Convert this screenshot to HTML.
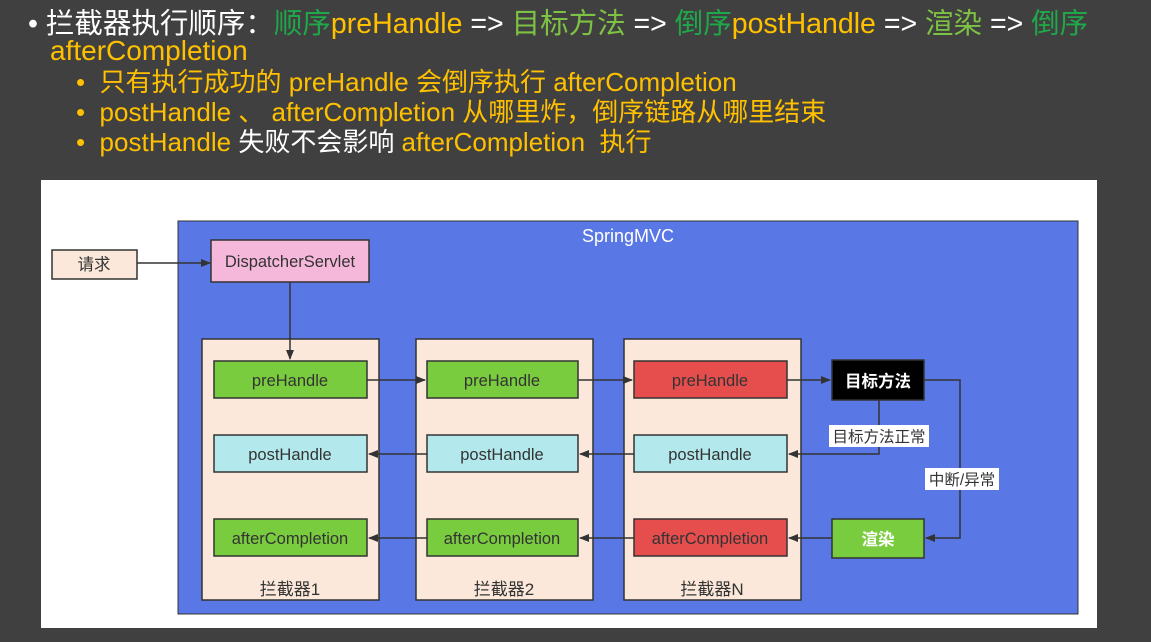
<!DOCTYPE html>
<html><head><meta charset="utf-8"><style>
body{margin:0;width:1151px;height:642px;background:#404040;overflow:hidden;font-family:"Liberation Sans","Noto Sans CJK SC",sans-serif;position:relative}
.t{position:absolute;white-space:nowrap;line-height:1}
.w{color:#fff}.g{color:#1fa84a}.lg{color:#7dc243}.y{color:#ffc000}
</style></head><body>
<div class="t w" style="left:28px;top:10px;font-size:28.5px">•&nbsp;拦截器执行顺序：<span class="g">顺序</span><span class="y">preHandle</span> => <span class="lg">目标方法</span> => <span class="g">倒序</span><span class="y">postHandle</span> => <span class="lg">渲染</span> => <span class="g">倒序</span></div>
<div class="t y" style="left:50px;top:37px;font-size:28px">afterCompletion</div>
<div class="t y" style="left:76px;top:69px;font-size:26px">•&nbsp; 只有执行成功的 preHandle 会倒序执行 afterCompletion</div>
<div class="t y" style="left:76px;top:99px;font-size:26px">•&nbsp; postHandle 、 afterCompletion 从哪里炸，倒序链路从哪里结束</div>
<div class="t y" style="left:76px;top:129px;font-size:26px">•&nbsp; postHandle <span class="w">失败不会影响</span> afterCompletion&nbsp; 执行</div>
<svg style="position:absolute;left:0;top:0" width="1151" height="642" font-family="Liberation Sans,Noto Sans CJK SC,sans-serif">
<defs><marker id="a" markerWidth="10" markerHeight="8" refX="9" refY="4" orient="auto" markerUnits="userSpaceOnUse"><path d="M0,0L10,4L0,8z" fill="#333"/></marker></defs>
<rect x="41" y="180" width="1056" height="448" fill="#fff"/>
<rect x="178" y="221" width="900" height="393" fill="#5a77e6" stroke="#333"/>
<text x="628" y="242" font-size="18" fill="#fff" text-anchor="middle">SpringMVC</text>
<g stroke="#333" stroke-width="1.5">
<rect x="52" y="250" width="85" height="29" fill="#fbe8da"/>
<rect x="211" y="240" width="158" height="42" fill="#f6b8da"/>
<rect x="202" y="339" width="177" height="261" fill="#fbe8da"/>
<rect x="416" y="339" width="177" height="261" fill="#fbe8da"/>
<rect x="624" y="339" width="177" height="261" fill="#fbe8da"/>
<rect x="214" y="361" width="153" height="37" fill="#7acc3f"/>
<rect x="214" y="435" width="153" height="37" fill="#b3e9ec"/>
<rect x="214" y="519" width="153" height="37" fill="#7acc3f"/>
<rect x="427" y="361" width="151" height="37" fill="#7acc3f"/>
<rect x="427" y="435" width="151" height="37" fill="#b3e9ec"/>
<rect x="427" y="519" width="151" height="37" fill="#7acc3f"/>
<rect x="634" y="361" width="153" height="37" fill="#e64e4e"/>
<rect x="634" y="435" width="153" height="37" fill="#b3e9ec"/>
<rect x="634" y="519" width="153" height="37" fill="#e64e4e"/>
<rect x="832" y="360" width="92" height="40" fill="#000"/>
<rect x="832" y="519" width="92" height="39" fill="#7acc3f"/>
<g fill="none" marker-end="url(#a)">
<path d="M137,263H210"/><path d="M290,282V359"/>
<path d="M367,380H425"/><path d="M578,380H632"/><path d="M787,380H830"/>
<path d="M924,380H960V538H926"/><path d="M879,400V454H789"/>
<path d="M634,454H580"/><path d="M427,454H369"/>
<path d="M832,538H789"/><path d="M634,538H580"/><path d="M427,538H369"/>
</g></g>
<g font-size="16.5" fill="#333" text-anchor="middle">
<text x="94" y="270">请求</text><text x="290" y="267">DispatcherServlet</text>
<text x="290" y="386">preHandle</text><text x="290" y="460">postHandle</text><text x="290" y="544">afterCompletion</text>
<text x="502" y="386">preHandle</text><text x="502" y="460">postHandle</text><text x="502" y="544">afterCompletion</text>
<text x="710" y="386">preHandle</text><text x="710" y="460">postHandle</text><text x="710" y="544">afterCompletion</text>
<text x="290" y="595" font-size="17">拦截器1</text><text x="504" y="595" font-size="17">拦截器2</text><text x="712" y="595" font-size="17">拦截器N</text>
<text x="878" y="387" fill="#fff" font-weight="bold">目标方法</text><text x="878" y="545" fill="#fff" font-weight="bold">渲染</text>
</g>
<rect x="829" y="425" width="100" height="22" fill="#fff"/><text x="879" y="442" font-size="15.5" fill="#333" text-anchor="middle">目标方法正常</text>
<rect x="925" y="468" width="74" height="22" fill="#fff"/><text x="962" y="485" font-size="15.5" fill="#333" text-anchor="middle">中断/异常</text>
</svg>
</body></html>
